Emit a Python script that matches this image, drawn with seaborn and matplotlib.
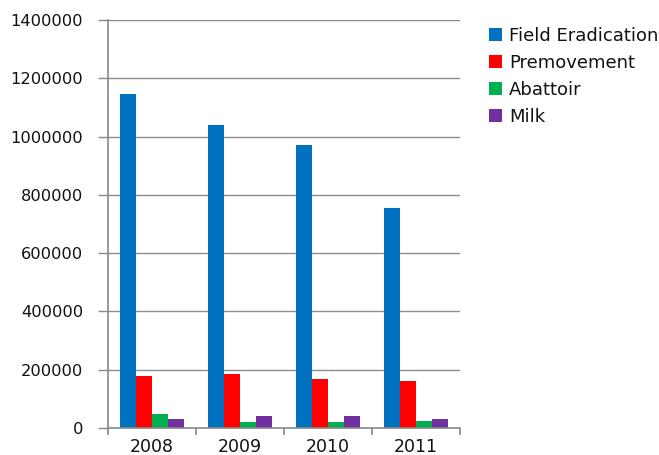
import matplotlib
matplotlib.use("Agg")
import matplotlib.pyplot as plt
import seaborn as sns
import pandas as pd
import numpy as np

years = ["2008", "2009", "2010", "2011"]
series = ["Field Eradication", "Premovement", "Abattoir", "Milk"]
field_eradication = [1146000, 1040000, 972000, 755000]
premovement = [180000, 184000, 167000, 160000]
abattoir = [48000, 20000, 20000, 25000]
milk = [32000, 40000, 40000, 32000]
colors = ["#0070C0", "#FF0000", "#00B050", "#7030A0"]
yticks = [0, 200000, 400000, 600000, 800000, 1000000, 1200000, 1400000]

rows = []
for name, vals in zip(series, [field_eradication, premovement, abattoir, milk]):
    for y, v in zip(years, vals):
        rows.append({"Year": y, "Series": name, "Value": v})
df = pd.DataFrame(rows)

sns.set_theme(style="white")
plt.rcParams["font.family"] = ["DejaVu Sans"]

fig = plt.figure(figsize=(6.59, 4.55), dpi=100)
ax = fig.add_axes([108/659, 27/455, 352/659, 408/455])

sns.barplot(data=df, x="Year", y="Value", hue="Series", order=years,
            hue_order=series, palette=colors, width=0.73, saturation=1,
            edgecolor="none", ax=ax, errorbar=None)

ax.set_ylim(0, 1400000)
ax.set_xlim(-0.5, 3.5)
ax.set_yticks(yticks)
ax.set_yticklabels([str(t) for t in yticks], fontsize=11.7, color="#111111")
ax.set_xticklabels(years, fontsize=12.5, color="#111111")
ax.tick_params(axis="x", which="major", bottom=True, length=0, pad=7)
ax.set_xticks(np.arange(-0.5, 4.0, 1.0), minor=True)
ax.tick_params(axis="x", which="minor", bottom=True, length=5, color="#888888", width=1.2, direction="out")
ax.tick_params(axis="y", left=True, length=7, color="#888888", width=1.0, direction="out", pad=11)
ax.set_xlabel("")
ax.set_ylabel("")
ax.yaxis.grid(True, color="#8c8c8c", linewidth=1.0)
ax.set_axisbelow(True)
for s in ["top", "right"]:
    ax.spines[s].set_visible(False)
for s in ["left", "bottom"]:
    ax.spines[s].set_color("#888888")
    ax.spines[s].set_linewidth(1.2)

handles, labels = ax.get_legend_handles_labels()
ax.legend_.remove()
leg = fig.legend(handles, labels, loc="upper left", bbox_to_anchor=(489/659, 1 - 27/455),
                 frameon=False, fontsize=13, handlelength=0.7, handleheight=0.7,
                 handletextpad=0.4, labelspacing=0.5, borderaxespad=0, borderpad=0)
for t in leg.get_texts():
    t.set_color("#111111")

fig.savefig("out.png", dpi=100)
